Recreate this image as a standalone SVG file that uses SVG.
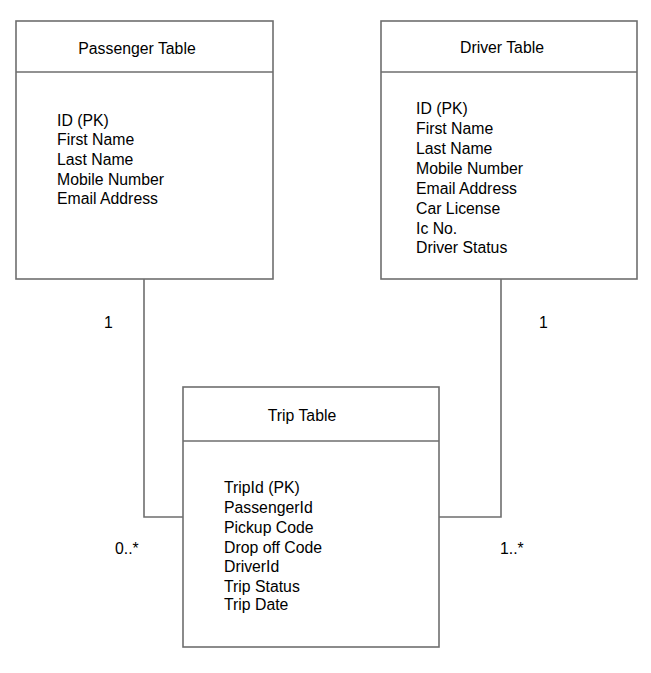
<svg xmlns="http://www.w3.org/2000/svg" width="651" height="673" viewBox="0 0 651 673">
<style>
.box{fill:#fff;stroke:#6e6e6e;stroke-width:1.6}
.sep{stroke:#6e6e6e;stroke-width:1.6}
.con{fill:none;stroke:#6e6e6e;stroke-width:1.6}
text{font-family:"Liberation Sans",Arial,sans-serif;font-size:15.8px;fill:#000}
.t{text-anchor:middle}
</style>
<rect width="651" height="673" fill="#fff"/>
<g id="connectors">
<polyline class="con" points="144,279 144,517 183,517"/>
<polyline class="con" points="501,279 501,517 439,517"/>
</g>
<g id="labels">
<text x="104" y="328">1</text>
<text x="539" y="328">1</text>
<text x="115" y="554">0..*</text>
<text x="500" y="554">1..*</text>
</g>
<g id="passenger">
<rect class="box" x="16" y="21" width="257" height="258"/>
<line class="sep" x1="16" y1="72" x2="273" y2="72"/>
<text class="t" x="137" y="54">Passenger Table</text>
<text x="57" y="126">ID (PK)</text>
<text x="57" y="145">First Name</text>
<text x="57" y="165">Last Name</text>
<text x="57" y="185">Mobile Number</text>
<text x="57" y="204">Email Address</text>
</g>
<g id="driver">
<rect class="box" x="381" y="21" width="256" height="258"/>
<line class="sep" x1="381" y1="72" x2="637" y2="72"/>
<text class="t" x="502" y="53">Driver Table</text>
<text x="416" y="114">ID (PK)</text>
<text x="416" y="134">First Name</text>
<text x="416" y="154">Last Name</text>
<text x="416" y="174">Mobile Number</text>
<text x="416" y="194">Email Address</text>
<text x="416" y="214">Car License</text>
<text x="416" y="234">Ic No.</text>
<text x="416" y="253">Driver Status</text>
</g>
<g id="trip">
<rect class="box" x="183" y="387" width="256" height="260"/>
<line class="sep" x1="183" y1="441" x2="439" y2="441"/>
<text class="t" x="302" y="421">Trip Table</text>
<text x="224" y="493">TripId (PK)</text>
<text x="224" y="513">PassengerId</text>
<text x="224" y="533">Pickup Code</text>
<text x="224" y="553">Drop off Code</text>
<text x="224" y="572">DriverId</text>
<text x="224" y="592">Trip Status</text>
<text x="224" y="610">Trip Date</text>
</g>
</svg>
